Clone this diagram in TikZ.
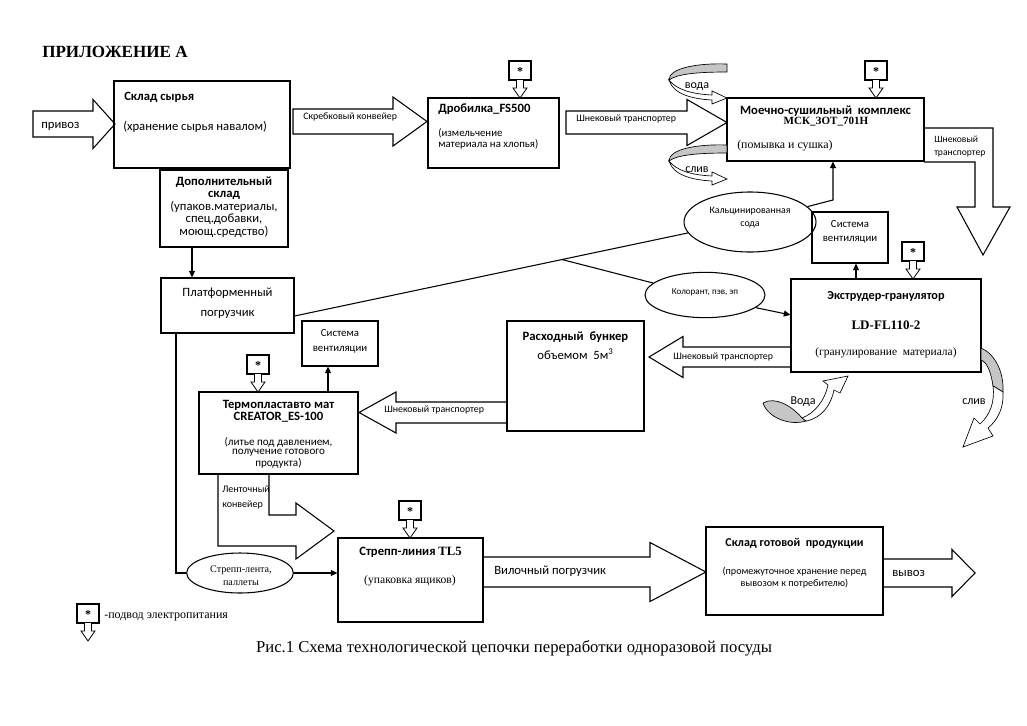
\documentclass[tikz,border=0pt]{standalone}
\usepackage{fontspec}
\setmainfont{Liberation Serif}
\setsansfont{Carlito}
\usetikzlibrary{arrows.meta,shapes.geometric,calc,fit}
\newcommand\fs[2]{\fontsize{#1}{#2}\selectfont}
% block arrow: tail x, tip x, centre y, shaft half, head half, head base x
\newcommand\harrow[6]{\draw[blk] (#1,{#3-#4}) -- (#6,{#3-#4}) -- (#6,{#3-#5}) -- (#2,#3) -- (#6,{#3+#5}) -- (#6,{#3+#4}) -- (#1,{#3+#4}) -- cycle;}
\newcommand\bx[5]{\coordinate (#1a) at (#2,#3); \coordinate (#1b) at (#4,#5); \node[box, fit=(#1a)(#1b)] (#1) {};}
\begin{document}
\begin{tikzpicture}[x=0.75pt,y=-0.75pt,
  box/.style={draw, line width=0.8pt, inner sep=0pt},
  ln/.style={line width=0.8pt},
  arr/.style={line width=0.8pt, -{Triangle[length=5pt,width=4.5pt]}},
  blk/.style={draw, line width=0.8pt, fill=white, line join=miter},
  ell/.style={draw, ellipse, line width=0.8pt, inner sep=0pt},
  tx/.style={inner sep=0pt, font=\sffamily\fs{9.5}{11.5}},
  tb/.style={inner sep=0pt, font=\sffamily\bfseries\fs{9.5}{11.5}},
  sm/.style={inner sep=0pt, font=\sffamily\fs{7.4}{9}},
  pwr/.pic={
    \draw[line width=0.8pt, fill=white] (-11,-37) rectangle (11,-18);
    \draw[line width=0.6pt, fill=white, line join=miter] (-3.5,-18) -- (-3.5,-10) -- (-7,-10) -- (0,0) -- (7,-10) -- (3.5,-10) -- (3.5,-18);
    \node[inner sep=0pt, font=\rmfamily\bfseries\fs{9}{9}] at (0,-26) {*};
  },
  curl/.pic={
    \draw[line width=0.5pt, fill=gray!45] (0,0) .. controls (-30,-1) and (-58,4) .. (-58,16) .. controls (-50,10) and (-30,8) .. (0,8) -- cycle;
    \draw[line width=0.5pt, fill=white, line join=miter] (-58,16) .. controls (-54,30) and (-35,35) .. (-15,36) -- (-15,40) -- (0,34) -- (-15,27) -- (-15,31) .. controls (-35,30) and (-50,26) .. (-58,16) -- cycle;
  }]
\path[fill=white] (0,0) rectangle (1027,725);
\useasboundingbox (0,0) rectangle (1027,725);

% ---------- block arrows ----------
\harrow{33}{115}{124}{13}{24.5}{93}
\harrow{293}{427}{121.5}{12.5}{24.5}{393}
\harrow{566}{727}{122.5}{11.5}{23}{687}
\harrow{791}{649}{357}{10}{20.5}{683}
\harrow{507}{359}{412.5}{10.5}{20.5}{396}
\harrow{483}{706}{572}{15}{29.5}{650}
\harrow{883}{975}{573}{14}{23.5}{952}
% bent arrow from washing complex
\draw[blk] (924,128) -- (993,128) -- (993,207) -- (1010,207) -- (983,255) -- (957,207) -- (975,207) -- (975,162) -- (924,162);
% bent belt conveyor
\draw[blk] (218,474) -- (218,546) -- (296,546) -- (296,559) -- (334,531) -- (296,503) -- (296,515) -- (269,515) -- (269,474);

% ---------- boxes ----------
\bx{sklad}{114}{81}{290}{168}
\bx{dop}{160}{170}{288}{247}
\bx{plat}{161}{278}{294}{333}
\bx{drob}{428}{98}{559}{168}
\bx{msk}{727}{98}{924}{161}
\bx{venA}{812}{212}{888}{263}
\bx{extr}{791}{279}{981}{372}
\bx{bunk}{507}{321}{644}{431}
\bx{venB}{302}{321}{378}{366}
\bx{termo}{199}{392}{358}{474}
\bx{strep}{338}{538}{483}{622}
\bx{gotov}{706}{527}{883}{615}

% ---------- ellipses ----------
\node[ell, minimum width=99pt, minimum height=45pt] (soda) at (750,222) {};
\node[ell, minimum width=90pt, minimum height=34pt] (kol) at (705,295) {};
\node[ell, minimum width=80pt, minimum height=30pt] (lenta) at (240,573) {};

% ---------- connectors ----------
\coordinate (dx) at (192,0);
\draw[arr] (dx |- dop.south) -- (dx |- plat.north);
\coordinate (pA) at ($(plat.east)+(0,10.5)$);
\draw[ln] (pA) -- (soda.190);
\coordinate (br) at ($(pA)!0.68!(soda.190)$);
\draw[ln] (br) -- (kol.167);
\draw[arr] (kol.-14) -- ($(extr.north west)!0.387!(extr.south west)$);
\coordinate (sc) at (833,200);
\draw[arr] (soda.15) -- (sc) -- (sc |- msk.south);
\coordinate (ex) at (856,0);
\draw[arr] (ex |- extr.north) -- (ex |- venA.south);
\coordinate (tx) at (328,0);
\draw[arr] (tx |- termo.north) -- (tx |- venB.south);
\coordinate (vx) at (176,573);
\draw[ln] (vx |- plat.south) -- (vx) -- (lenta.west);
\draw[arr] (lenta.east) -- (strep.west |- lenta.east);

% ---------- power symbols ----------
\pic at (520,98) {pwr};
\pic at (876,98) {pwr};
\pic at (913,279) {pwr};
\pic at (258,392) {pwr};
\pic at (410,538) {pwr};
\pic at (88,641) {pwr};

% ---------- curled arrows ----------
\pic at (727,64) {curl};
\pic at (727,145) {curl};
\draw[line width=0.5pt, fill=gray!45] (763,403) .. controls (775,396) and (792,406) .. (802,418) -- (806,421) .. controls (790,426) and (768,418) .. (763,403) -- cycle;
\draw[line width=0.5pt, fill=white, line join=miter] (806,421) .. controls (822,418) and (831,405) .. (834,390) -- (840,393) -- (848,376) -- (823,381) -- (828,385) .. controls (825,400) and (815,413) .. (802,418) -- cycle;
\draw[line width=0.5pt, fill=gray!45] (981,348) .. controls (995,354) and (1004,372) .. (1003,392) -- (993,386) .. controls (991,372) and (987,362) .. (981,360) -- cycle;
\draw[line width=0.5pt, fill=white, line join=miter] (1003,392) .. controls (1004,407) and (998,420) .. (988,428) -- (993,436) -- (963,447) -- (974,418) -- (980,424) .. controls (990,415) and (995,402) .. (993,386) -- cycle;

% ---------- texts ----------
\node[anchor=west, inner sep=0pt, font=\rmfamily\bfseries\fs{12.8}{14}] (title) at (42,52) {ПРИЛОЖЕНИЕ А};
\node[anchor=west, tb] (sk1) at (124,97) {Склад сырья};
\node[anchor=west, tx] (sk2) at (123,127) {(хранение сырья навалом)};
\node[anchor=west, tx] (pv) at (41,126) {привоз};
\node[tx, align=center, font=\sffamily\fs{9.5}{9.4}] (dopt) at (224,207) {\textbf{Дополнительный}\\\textbf{склад}\\(упаков.материалы,\\спец.добавки,\\моющ.средство)};
\node[tx, align=center, font=\sffamily\fs{9.5}{15}] (platt) at (227.5,303) {Платформенный\\погрузчик};
\node[anchor=west, sm] (skr) at (303,117) {Скребковый конвейер};
\node[anchor=west, tb] (dr1) at (438,109) {Дробилка\_FS500};
\node[anchor=west, inner sep=0pt, align=left, font=\sffamily\fs{8.1}{8.25}] (dr2) at (438,138.5) {(измельчение\\материала на хлопья)};
\node[anchor=west, sm] (sh1) at (576,119) {Шнековый транспортер};
\node[tb] (ms1) at (825.5,111) {Моечно-сушильный\ \ комплекс};
\node[inner sep=0pt, font=\rmfamily\bfseries\fs{8.3}{9}] (ms2) at (826,122) {МСК\_ЗОТ\_701Н};
\node[anchor=west, inner sep=0pt, font=\rmfamily\fs{8.9}{10}] (ms3) at (737,146) {(помывка и сушка)};
\node[anchor=west, inner sep=0pt, align=left, font=\sffamily\fs{7.2}{9.75}] (shR) at (934,146.5) {Шнековый\\транспортер};
\node[inner sep=0pt, font=\sffamily\fs{9}{10}] (vd1) at (697,87) {вода};
\node[inner sep=0pt, font=\sffamily\fs{9}{10}] (sl1) at (697,170) {слив};
\node[inner sep=0pt, font=\sffamily\fs{9}{10}] (vd2) at (803,402) {Вода};
\node[inner sep=0pt, font=\sffamily\fs{9}{10}] (sl2) at (974,402) {слив};
\node[inner sep=0pt, align=center, font=\sffamily\fs{7.4}{9.75}] (sodat) at (750,217.5) {Кальцинированная\\сода};
\node[inner sep=0pt, font=\sffamily\fs{6.8}{8}] (kolt) at (705,292) {Колорант, пэв, эп};
\node[inner sep=0pt, align=center, font=\sffamily\fs{8.1}{10.5}] (venAt) at (850,232) {Система\\вентиляции};
\node[inner sep=0pt, align=center, font=\sffamily\fs{8.1}{11.25}] (venBt) at (340,341.5) {Система\\вентиляции};
\node[inner sep=0pt, font=\sffamily\bfseries\fs{9.2}{10}] (ex1) at (886,296) {Экструдер-гранулятор};
\node[inner sep=0pt, font=\rmfamily\bfseries\fs{9.8}{11}] (ex2) at (886,325) {LD-FL110-2};
\node[inner sep=0pt, font=\rmfamily\fs{8.6}{10}] (ex3) at (886,353) {(гранулирование\ \ материала)};
\node[anchor=west, sm] (sh2) at (673,357) {Шнековый транспортер};
\node[tb] (bu1) at (575.5,337) {Расходный\ \ бункер};
\node[tx] (bu2) at (575.5,354) {объемом\ \ 5м\textsuperscript{3}};
\node[anchor=west, sm] (sh3) at (384,410) {Шнековый транспортер};
\node[inner sep=0pt, align=center, font=\sffamily\bfseries\fs{9.5}{9}] (te1) at (278.5,411) {Термопластавто мат\\CREATOR\_ES-100};
\node[inner sep=0pt, align=center, font=\sffamily\fs{8.3}{7.3}] (te2) at (278.5,452.5) {(литье под давлением,\\получение готового\\продукта)};
\node[anchor=west, inner sep=0pt, align=left, font=\sffamily\fs{7.5}{11.25}] (lk) at (222,497.5) {Ленточный\\конвейер};
\node[inner sep=0pt, align=center, font=\rmfamily\fs{7.6}{9.75}] (lentat) at (241,575.5) {Стрепп-лента,\\паллеты};
\node[inner sep=0pt, font=\fs{9.5}{11}] (st1) at (410.5,552) {\sffamily\bfseries Стрепп-линия \rmfamily TL5};
\node[inner sep=0pt, font=\rmfamily\fs{8.7}{10}] (st2) at (410,581) {(упаковка ящиков)};
\node[anchor=west, tx] (vil) at (494,571) {Вилочный погрузчик};
\node[inner sep=0pt, font=\sffamily\bfseries\fs{9}{10}] (go1) at (794.5,543) {Склад готовой\ \ продукции};
\node[inner sep=0pt, align=center, font=\sffamily\fs{7.6}{9}] (go2) at (794.5,578) {(промежуточное хранение перед\\вывозом к потребителю)};
\node[anchor=west, tx] (vy) at (892,573) {вывоз};
\node[anchor=west, inner sep=0pt, font=\rmfamily\fs{9}{10}] (leg) at (104,617) {-подвод электропитания};
\node[inner sep=0pt, font=\rmfamily\fs{12.5}{14}] (cap) at (514,648) {Рис.1 Схема технологической цепочки переработки одноразовой посуды};
\end{tikzpicture}
\end{document}
